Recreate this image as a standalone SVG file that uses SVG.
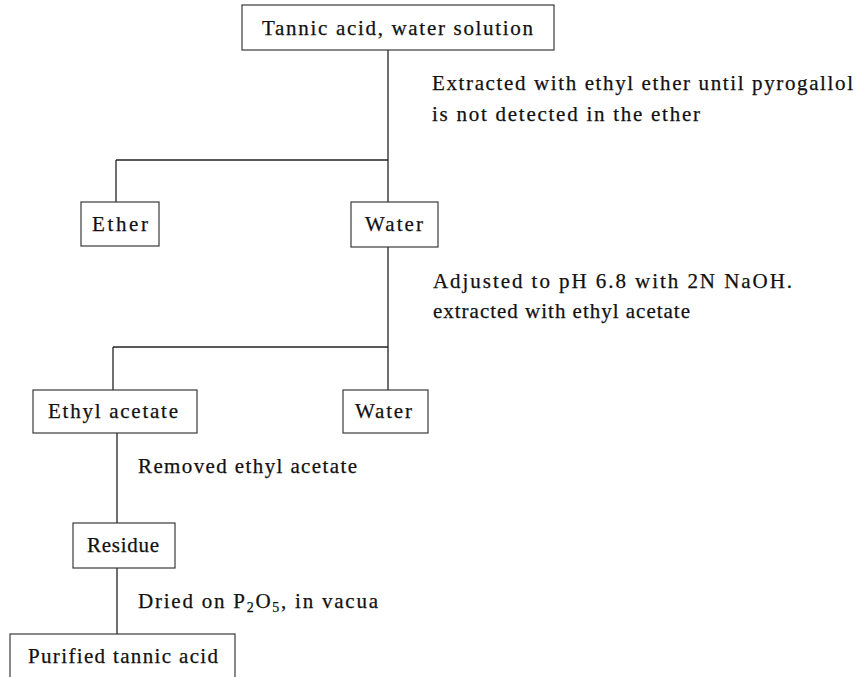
<svg xmlns="http://www.w3.org/2000/svg" width="859" height="677" viewBox="0 0 859 677">
<style>
.box{fill:none;stroke:#3a3a3a;stroke-width:1.2}
.con{fill:none;stroke:#222;stroke-width:1.3}
text{font-family:"Liberation Serif","Times New Roman",serif;font-size:21px;fill:#111;stroke:#111;stroke-width:0.25}
</style>
<rect width="859" height="677" fill="#fff"/>
<g id="connectors">
<path class="con" d="M388,50 V202"/>
<path class="con" d="M116,160 H388"/>
<path class="con" d="M116,160 V202"/>
<path class="con" d="M388,247 V390"/>
<path class="con" d="M113,347 H388"/>
<path class="con" d="M113,347 V390"/>
<path class="con" d="M117,433 V523"/>
<path class="con" d="M117,568 V634"/>
</g>
<g id="labels">
<text x="432" y="90" textLength="421" lengthAdjust="spacing">Extracted with ethyl ether until pyrogallol</text>
<text x="432" y="121" textLength="268" lengthAdjust="spacing">is not detected in the ether</text>
<text x="433" y="288" textLength="359" lengthAdjust="spacing">Adjusted to pH 6.8 with 2N NaOH.</text>
<text x="433" y="318" textLength="257" lengthAdjust="spacing">extracted with ethyl acetate</text>
<text x="138" y="473" textLength="219" lengthAdjust="spacing">Removed ethyl acetate</text>
<text x="138" y="608" textLength="240" lengthAdjust="spacing">Dried on P<tspan font-size="14" dy="4">2</tspan><tspan dy="-4">O</tspan><tspan font-size="14" dy="4">5</tspan><tspan dy="-4">,  in vacua</tspan></text>
</g>
<g id="n_tannic">
<rect class="box" x="242" y="5" width="312" height="45"/>
<text x="262" y="35" textLength="271" lengthAdjust="spacing">Tannic acid, water solution</text>
</g>
<g id="n_ether">
<rect class="box" x="81" y="202" width="78" height="44"/>
<text x="92" y="231" textLength="56" lengthAdjust="spacing">Ether</text>
</g>
<g id="n_water1">
<rect class="box" x="351" y="202" width="87" height="45"/>
<text x="365" y="231" textLength="58" lengthAdjust="spacing">Water</text>
</g>
<g id="n_ethylacetate">
<rect class="box" x="33" y="390" width="164" height="43"/>
<text x="48" y="418" textLength="130" lengthAdjust="spacing">Ethyl acetate</text>
</g>
<g id="n_water2">
<rect class="box" x="343" y="390" width="85" height="43"/>
<text x="355" y="418" textLength="57" lengthAdjust="spacing">Water</text>
</g>
<g id="n_residue">
<rect class="box" x="73" y="523" width="102" height="45"/>
<text x="87" y="552" textLength="72" lengthAdjust="spacing">Residue</text>
</g>
<g id="n_purified">
<rect class="box" x="10" y="634" width="225" height="50"/>
<text x="28" y="663" textLength="190" lengthAdjust="spacing">Purified tannic acid</text>
</g>
</svg>
